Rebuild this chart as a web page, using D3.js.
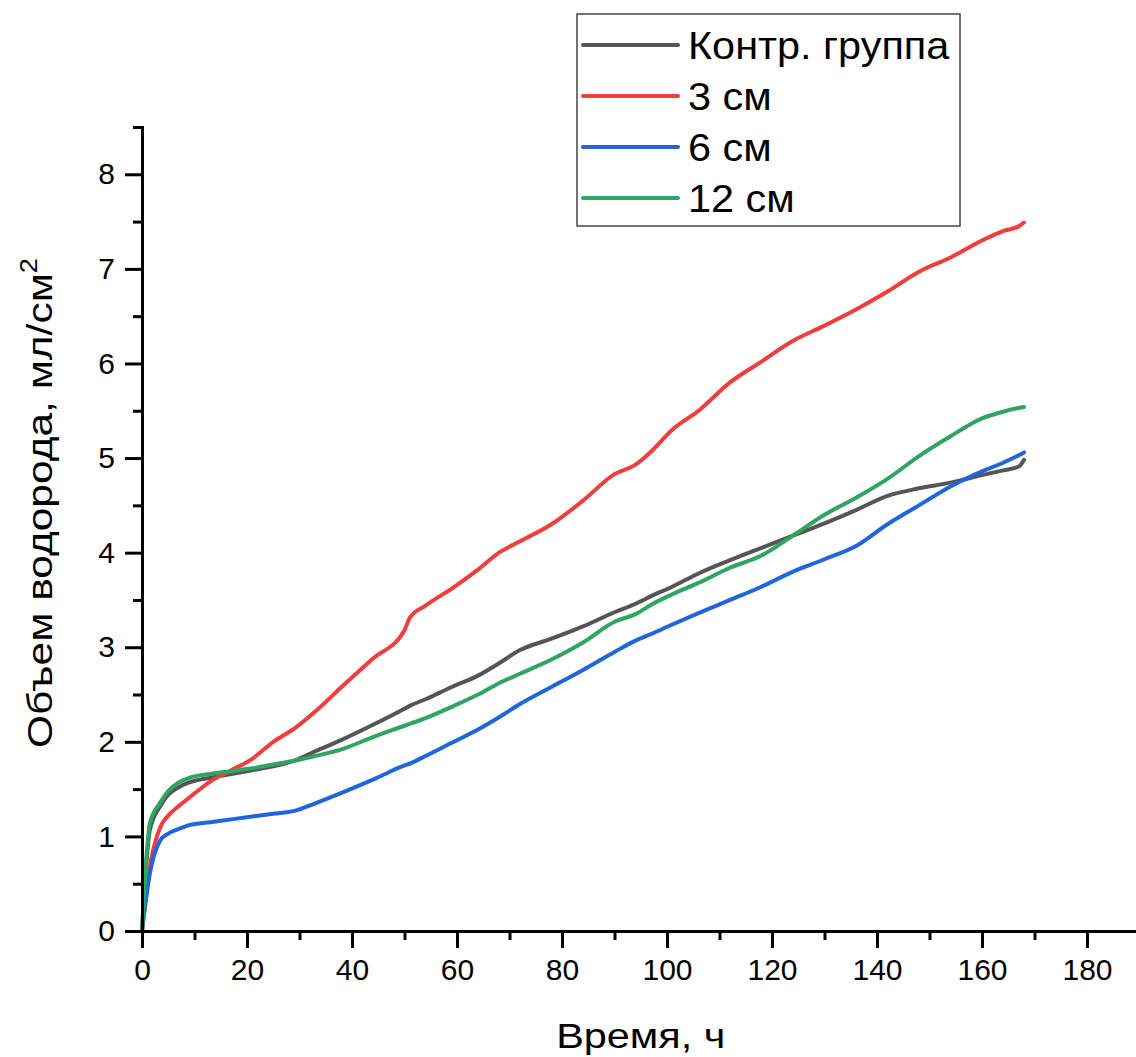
<!DOCTYPE html>
<html>
<head>
<meta charset="utf-8">
<script src="https://cdn.jsdelivr.net/npm/d3@7"></script>
<style>
  body { margin: 0; background: #fff; }
  text { font-family: "Liberation Sans", Arial, sans-serif; }
</style>
</head>
<body>
<div id="chart"></div>
<script>
// time points, h
var hours = [0, 1.5, 3.5, 5, 7, 9, 13, 17, 21, 25, 29, 33, 38, 44, 50, 51, 54, 59, 64, 68,
  72, 78, 84, 90, 94, 97, 101, 106, 112, 118, 124, 130, 136, 142, 148, 154, 160, 164, 167, 168];

// hydrogen volume, ml/cm2
var control = [0, 1.07, 1.32, 1.44, 1.52, 1.57, 1.62, 1.66, 1.70, 1.74, 1.80, 1.90, 2.02, 2.18, 2.35, 2.38, 2.45, 2.58, 2.70, 2.83,
  2.97, 3.09, 3.22, 3.37, 3.46, 3.54, 3.64, 3.78, 3.92, 4.05, 4.18, 4.31, 4.45, 4.60, 4.68, 4.74, 4.82, 4.87, 4.91, 4.98];
var cm3 = [0, 0.68, 1.10, 1.22, 1.32, 1.41, 1.58, 1.70, 1.82, 2.00, 2.14, 2.32, 2.58, 2.88, 3.18, 3.31, 3.44, 3.62, 3.82, 4.00,
  4.12, 4.30, 4.55, 4.83, 4.93, 5.07, 5.30, 5.50, 5.80, 6.02, 6.24, 6.40, 6.57, 6.76, 6.97, 7.12, 7.30, 7.40, 7.45, 7.49];
var cm6 = [0, 0.61, 0.96, 1.03, 1.08, 1.12, 1.15, 1.18, 1.21, 1.24, 1.27, 1.35, 1.46, 1.60, 1.75, 1.77, 1.85, 1.99, 2.13, 2.26,
  2.40, 2.58, 2.76, 2.95, 3.07, 3.14, 3.24, 3.36, 3.50, 3.64, 3.80, 3.93, 4.07, 4.30, 4.50, 4.70, 4.86, 4.95, 5.03, 5.06];
var cm12 = [0, 1.14, 1.36, 1.48, 1.57, 1.62, 1.66, 1.69, 1.72, 1.76, 1.80, 1.85, 1.92, 2.05, 2.17, 2.19, 2.25, 2.37, 2.50, 2.62,
  2.72, 2.87, 3.05, 3.27, 3.35, 3.45, 3.56, 3.68, 3.84, 3.97, 4.18, 4.40, 4.58, 4.78, 5.02, 5.23, 5.42, 5.49, 5.53, 5.54];

var seriesNames = ["Контр. группа", "3 см", "6 см", "12 см"];
var seriesColors = ["#555555", "#f23d3d", "#1f66de", "#2ea560"];
var xTicks = [0, 20, 40, 60, 80, 100, 120, 140, 160, 180];
var yTicks = [0, 1, 2, 3, 4, 5, 6, 7, 8];

var width = 1136;
var height = 1057;
var margin = {left: 142, top: 127};
var plotW = 997.5;
var plotH = 804;

var svg = d3.select("#chart")
  .append("svg")
  .attr("width", width)
  .attr("height", height);

var x = d3.scaleLinear().domain([0, 190]).range([0, plotW]);
var y = d3.scaleLinear().domain([0, 8.5]).range([plotH, 0]);

var g = svg.append("g")
  .attr("transform", "translate(" + margin.left + "," + margin.top + ")");

// curves
var allSeries = [control, cm3, cm6, cm12];
var line = d3.line()
  .x(function(d) { return x(d[0]); })
  .y(function(d) { return y(d[1]); })
  .curve(d3.curveMonotoneX);

allSeries.forEach(function(vals, i) {
  var pts = hours.map(function(h, j) { return [h, vals[j]]; });
  g.append("path")
    .datum(pts)
    .attr("fill", "none")
    .attr("stroke", seriesColors[i])
    .attr("stroke-width", 4)
    .attr("stroke-linejoin", "round")
    .attr("stroke-linecap", "round")
    .attr("d", line);
});

// axes, minor ticks first then major
var xMinor = d3.axisBottom(x).tickValues(d3.range(10, 190, 20)).tickSize(9).tickFormat("");
var yMinor = d3.axisLeft(y).tickValues(d3.range(0.5, 8.5, 1)).tickSize(9).tickFormat("");
var xAxis = d3.axisBottom(x).tickValues(xTicks).tickSize(17).tickPadding(11).tickSizeOuter(0);
var yAxis = d3.axisLeft(y).tickValues(yTicks).tickSize(17).tickPadding(10).tickSizeOuter(0);

g.append("g").attr("transform", "translate(0," + plotH + ")").call(xMinor);
g.append("g").call(yMinor);
var xg = g.append("g").attr("transform", "translate(0," + plotH + ")").call(xAxis);
var yg = g.append("g").call(yAxis);

g.selectAll(".domain, .tick line")
  .attr("stroke", "#000")
  .attr("stroke-width", 3);
g.selectAll(".tick text")
  .attr("font-size", 30)
  .attr("fill", "#000")
  .style("font-family", "'Liberation Sans', Arial, sans-serif");

// axis titles (glyphs in the original are a bit wider, so stretch along the text)
svg.append("text")
  .attr("transform", "translate(" + (margin.left + x(95)) + ",1048) scale(1.15,1)")
  .attr("text-anchor", "middle")
  .attr("font-size", 36)
  .text("Время, ч");

var yTitle = svg.append("text")
  .attr("transform", "translate(52,503) rotate(-90) scale(1.18,1)")
  .attr("text-anchor", "middle")
  .attr("font-size", 36);
yTitle.append("tspan").text("Объем водорода, мл/см");
yTitle.append("tspan").attr("font-size", 23).attr("dy", -15).text("2");

// legend
var legend = svg.append("g").attr("transform", "translate(577,14)");
legend.append("rect")
  .attr("width", 383)
  .attr("height", 212)
  .attr("fill", "#fff")
  .attr("stroke", "#444")
  .attr("stroke-width", 1.5);

var rows = legend.selectAll(".row")
  .data(seriesNames)
  .enter().append("g")
  .attr("class", "row")
  .attr("transform", function(d, i) { return "translate(0," + (31 + i * 51) + ")"; });

rows.append("line")
  .attr("x1", 6)
  .attr("x2", 101)
  .attr("stroke", function(d, i) { return seriesColors[i]; })
  .attr("stroke-width", 4)
  .attr("stroke-linecap", "round");

rows.append("text")
  .attr("transform", "translate(111,0) scale(1.09,1)")
  .attr("dy", "0.36em")
  .attr("font-size", 38)
  .text(function(d) { return d; });
</script>
</body>
</html>
